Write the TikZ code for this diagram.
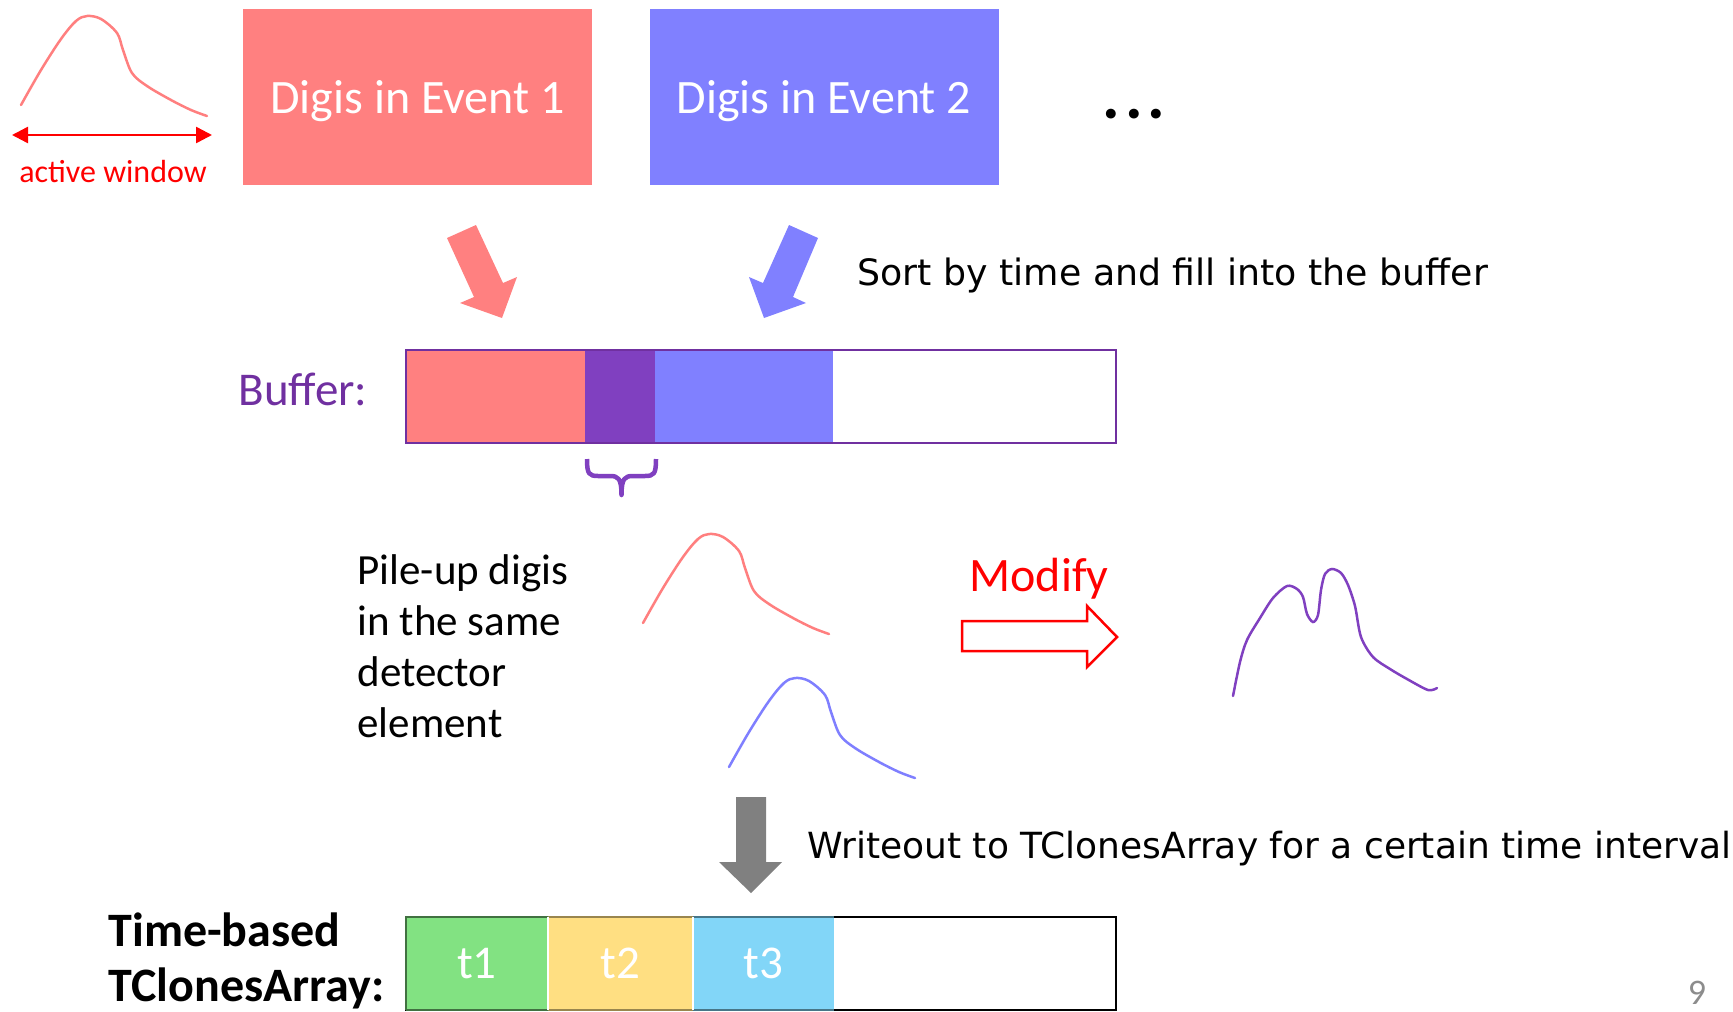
\documentclass[tikz,border=0pt]{standalone}
\usepackage{fontspec}
\setmainfont{Carlito}
\newfontfamily\handfont{DejaVu Sans}
\usetikzlibrary{arrows.meta}

\definecolor{evred}{HTML}{FF8080}
\definecolor{evblue}{HTML}{8080FF}
\definecolor{bufpurple}{HTML}{7030A0}
\definecolor{overlap}{HTML}{8040C0}
\definecolor{tgreen}{HTML}{82E282}
\definecolor{tyellow}{HTML}{FFDF82}
\definecolor{tblue}{HTML}{82D6F8}
\definecolor{pulsered}{HTML}{FF7F7F}
\definecolor{pulseblue}{HTML}{7F7FFF}
\definecolor{pulsepurple}{HTML}{8040C0}
\definecolor{arrowgray}{HTML}{808080}
\definecolor{pagegray}{HTML}{8C8C8C}

\newcommand\fsz[2]{\fontsize{#1}{#2}\selectfont}

\tikzset{
  evbox/.style={rectangle, inner sep=0pt, minimum width=349pt, minimum height=176pt},
  evtext/.style={text=white, font=\fsz{48}{57}},
  seg/.style={rectangle, inner sep=0pt, outer sep=0pt, anchor=north west, minimum height=93pt},
  tlabel/.style={text=white, font=\fsz{47}{56}},
  pulse/.pic={
    \draw[line width=2.5pt, line cap=round] plot[smooth, tension=0.55] coordinates
      {(0,0) (20,-35) (40,-66) (55,-84) (66,-89) (80,-86) (96,-72) (102,-55)
       (111,-32) (126,-19) (150,-5) (170,5) (186,11)};
  },
}

\begin{document}
\begin{tikzpicture}[x=1pt,y=-1pt]
\useasboundingbox (0,0) rectangle (1733,1012);

% a single digi pulse and its active window
\pic[pulsered] at (21,105) {pulse};
\coordinate (winL) at (12,135);
\coordinate (winR) at (212,135);
\draw[red, line width=2.5pt, {Triangle[length=16pt,width=16pt]}-{Triangle[length=16pt,width=16pt]}] (winL) -- (winR);
\node[red, anchor=base, font=\fsz{32}{38}] (winlabel) at (113,182) {active window};

% events
\node[evbox, fill=evred] (ev1) at (417.5,97) {};
\node[evtext] (ev1text) at ([yshift=-4.5pt]ev1.center) {Digis in Event 1};
\node[evbox, fill=evblue] (ev2) at (824,97) {};
\node[evtext] (ev2text) at ([yshift=-4.5pt]ev2.center) {Digis in Event 2};
\node[font=\fsz{66}{78}\bfseries] (more) at (1134,114) {.\kern5pt.\kern5pt.};

% block arrows into the buffer
\fill[evred] (447,238) -- (476,225) -- (503,283) -- (517,277) -- (502,318) -- (460,303) -- (474,297) -- cycle;
\fill[evblue] (818,238) -- (789,225) -- (763,283) -- (749,277) -- (764,318) -- (806,303) -- (793,297) -- cycle;
\node[anchor=base west, font=\handfont\fsz{36.3}{44}] (sortlabel) at (854,285) {Sort by time and fill into the buffer};

% buffer
\node[anchor=base west, text=bufpurple, font=\fsz{47}{56}] (buflabel) at (235,405) {Buffer:};
\node[seg, fill=evred, minimum width=179pt] (b1) at (406,350) {};
\node[seg, fill=overlap, minimum width=70pt] (b2) at (b1.north east) {};
\node[seg, fill=evblue, minimum width=178pt] (b3) at (b2.north east) {};
\node[seg, fill=white, minimum width=283pt] (b4) at (b3.north east) {};
\draw[bufpurple, line width=2.5pt] (b1.north west) rectangle (b4.south east);
% brace under the overlapping part
\coordinate (brL) at (587,459);
\coordinate (brR) at (656,459);
\coordinate (brTip) at (621.5,495);
\draw[pulsepurple, line width=4.5pt, line join=round]
  (brL) .. controls (587,474) and (589,476) .. (598,476) -- (610,476)
  .. controls (618,476) and (621.5,478) .. (brTip)
  .. controls (621.5,478) and (625,476) .. (633,476) -- (645,476)
  .. controls (654,476) and (656,474) .. (brR);

% pile-up
\node[anchor=base west, align=left, font=\fsz{43}{51}] (pileup) at (354,737)
  {Pile-up digis\\in the same\\detector\\element};
\pic[pulsered] at (643,623) {pulse};
\pic[pulseblue] at (729,767) {pulse};

\node[anchor=base west, text=red, font=\fsz{48}{57}] (modlabel) at (966,591) {Modify};
\draw[red, line width=2.5pt, line join=miter] (962,621) -- (1087,621) -- (1087,606) -- (1117,637)
  -- (1087,667) -- (1087,651) -- (962,651) -- cycle;

\draw[pulsepurple, line width=2.5pt, line cap=round] plot[smooth, tension=0.5] coordinates
  {(1233,696) (1240,662) (1247,640) (1260,618) (1273,598) (1287,586) (1297,589) (1303,597)
   (1307,614) (1313,622) (1318,615) (1321,590) (1325,574) (1332,569) (1341,573) (1348,585)
   (1355,606) (1361,637) (1373,657) (1390,669) (1407,679) (1428,690) (1437,688)};

% writeout
\fill[arrowgray] (736,797) -- (766,797) -- (766,862) -- (782,862) -- (751,893) -- (719,862) -- (736,862) -- cycle;
\node[anchor=base west, font=\handfont\fsz{36}{44}] (writelabel) at (804,858)
  {Writeout to TClonesArray for a certain time interval};

% time-based output array
\node[anchor=base west, align=left, font=\bfseries\fsz{48}{55}] (tclabel) at (105,1001)
  {Time-based\\TClonesArray:};
\node[seg, fill=tgreen, minimum width=142pt] (t1) at (406,917) {};
\node[seg, fill=tyellow, minimum width=145pt] (t2) at (t1.north east) {};
\node[seg, fill=tblue, minimum width=141pt] (t3) at (t2.north east) {};
\node[seg, fill=white, minimum width=282pt] (t4) at (t3.north east) {};
\draw[black, line width=2.5pt] (t1.north west) rectangle (t4.south east);
\draw[tgreen!50!black, line width=2.5pt] (t1.south west) -- (t1.north west) -- (t1.north east)
  (t1.south west) -- (t1.south east);
\draw[tyellow!60!black, line width=2.5pt] (t2.north west) -- (t2.north east) (t2.south west) -- (t2.south east);
\draw[tblue!55!black, line width=2.5pt] (t3.north west) -- (t3.north east) (t3.south west) -- (t3.south east);
\draw[white, line width=2.5pt] (t1.north east) -- (t1.south east) (t2.north east) -- (t2.south east);
\node[tlabel] at (t1.center) {t1};
\node[tlabel] at (t2.center) {t2};
\node[tlabel] at (t3.center) {t3};

\node[text=pagegray, font=\fsz{36}{42}] (pagenum) at (1697,993) {9};
\end{tikzpicture}
\end{document}
